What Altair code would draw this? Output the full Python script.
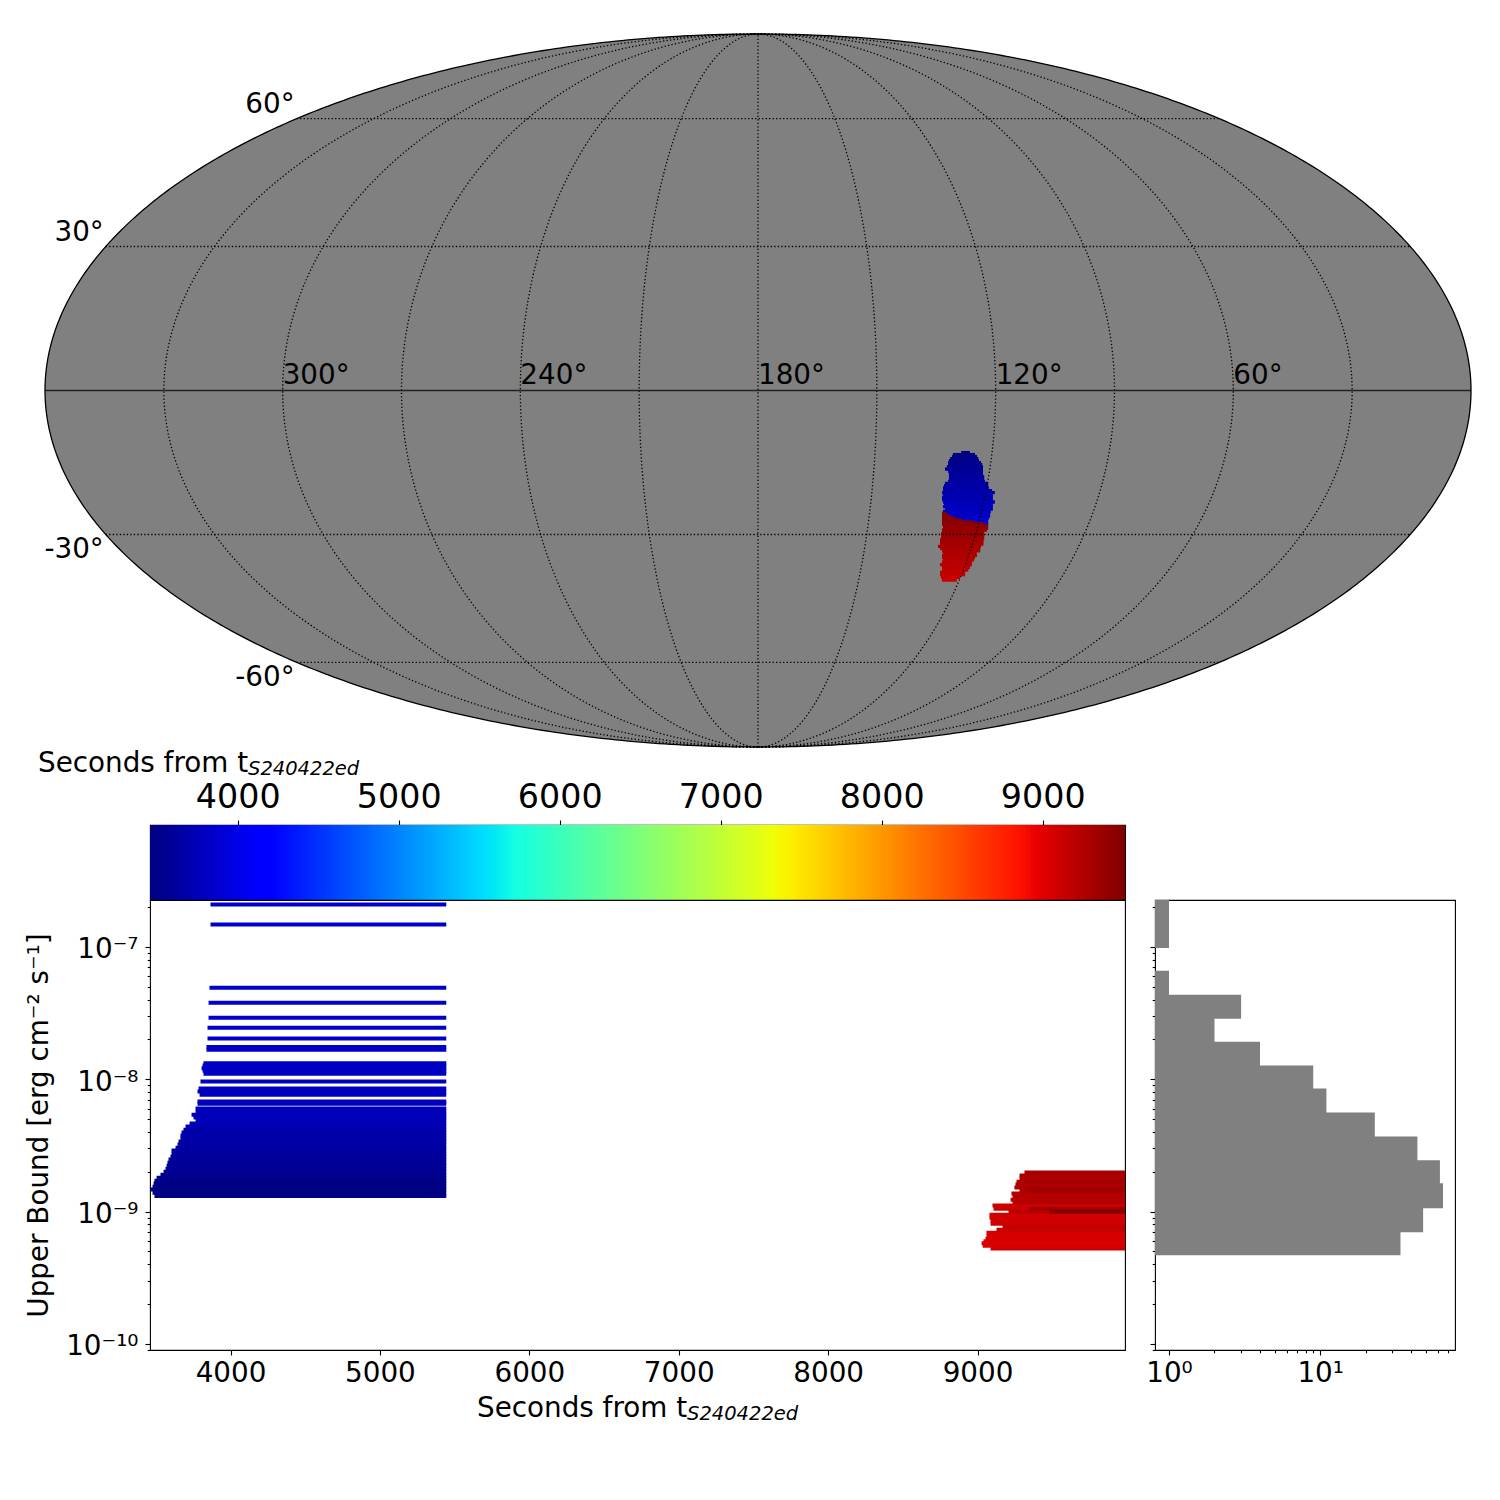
import altair as alt
import numpy as np
import pandas as pd

FONT = "DejaVu Sans"

# ---------- main panel: upper limits ----------
blue_flux = [2.09e-7,1.476e-7,4.92e-8,3.79e-8,2.92e-8,2.45e-8,2.03e-8,1.75e-8,1.67e-8,1.32e-8,1.27e-8,1.21e-8,1.16e-8,1.10e-8,9.6e-9,8.5e-9,8.06e-9,7.65e-9,6.78e-9,6.54e-9,6.0e-9,5.69e-9,5.4e-9,5.13e-9,4.87e-9,4.62e-9,4.39e-9,4.16e-9,3.95e-9,3.75e-9,3.56e-9,3.38e-9,3.21e-9,3.04e-9,2.89e-9,2.74e-9,2.60e-9,2.47e-9,2.34e-9,2.22e-9,2.11e-9,2.00e-9,1.90e-9,1.80e-9,1.71e-9,1.63e-9,1.54e-9,1.47e-9,1.39e-9,1.31e-9]
blue_start = [3866,3866,3859,3853,3853,3846,3846,3839,3839,3819,3813,3806,3813,3819,3799,3786,3779,3793,3779,3779,3766,3766,3739,3752,3766,3726,3699,3685,3672,3665,3665,3652,3645,3632,3605,3605,3598,3585,3578,3572,3565,3552,3531,3505,3491,3485,3478,3465,3478,3491]
blue_end = 5444

red_flux = [1.97e-9,1.87e-9,1.77e-9,1.68e-9,1.60e-9,1.52e-9,1.44e-9,1.37e-9,1.30e-9,1.23e-9,1.17e-9,1.11e-9,1.05e-9,9.98e-10,9.48e-10,9.0e-10,8.53e-10,8.11e-10,7.69e-10,7.30e-10,6.93e-10,6.58e-10,6.24e-10,5.98e-10,5.76e-10,5.53e-10,5.25e-10,1.68e-9,1.52e-9,1.44e-9,1.05e-9,9.98e-10]
red_start = [9314,9281,9281,9261,9254,9247,9281,9227,9234,9221,9234,9100,9107,9207,9080,9080,9087,9087,9167,9127,9060,9060,9053,9040,9027,9034,9087,9320,9330,9345,9345,9482]
red_end = 10500

# ---------- histogram ----------
hist_top = [2.26e-7,1.51e-7,6.59e-8,4.35e-8,2.92e-8,1.92e-8,1.27e-8,8.51e-9,5.61e-9,3.70e-9,2.44e-9,1.64e-9,1.08e-9,7.11e-10]
hist_bot = [1.51e-7,1.0e-7,4.35e-8,2.92e-8,1.92e-8,1.27e-8,8.51e-9,5.61e-9,3.70e-9,2.44e-9,1.64e-9,1.08e-9,7.11e-10,4.78e-10]
hist_cnt = [1,1,1,3,2,4,9,11,23,44,62,65,48,34]

# ---------- sky map rows (projected degrees) ----------
mb_y = [-15.66,-16.17,-16.67,-17.18,-17.68,-18.19,-18.69,-19.20,-19.79,-20.38,-21.05,-21.72,-22.31,-22.90,-23.41,-24.0,-24.59,-25.26,-25.77,-26.35,-26.94,-27.53,-28.12,-28.80,-29.30,-29.89,-30.48,-31.15,-31.66,-32.16,-32.67,-33.17,-33.68]
mb_x0 = [51.3,49.2,49.0,48.5,48.2,48.0,48.0,47.7,47.2,48.0,48.2,48.2,48.2,48.0,47.2,46.96,46.7,46.7,46.46,46.7,46.46,46.46,46.7,46.96,46.7,47.2,46.7,47.6,48.3,49.7,51.4,54.4,56.9]
mb_x1 = [53.5,54.8,55.3,55.6,55.8,56.3,56.6,56.8,56.8,56.8,56.8,57.1,57.1,57.3,58.1,58.1,58.3,59.1,59.8,59.3,59.3,59.3,59.8,59.3,59.3,59.3,58.8,58.6,58.6,58.3,58.1,58.1,58.1]
mb_t = [3470,3480,3490,3500,3515,3530,3540,3550,3565,3575,3590,3600,3615,3625,3640,3650,3660,3675,3685,3700,3710,3725,3735,3750,3760,3775,3785,3800,3810,3825,3835,3850,3860]

mr_y = [-30.98,-31.66,-32.16,-32.67,-33.17,-33.68,-34.19,-34.69,-35.2,-35.7,-36.2,-36.71,-37.2,-37.72,-38.23,-38.73,-39.32,-39.83,-40.42,-41.0,-41.6,-42.18,-42.77,-43.28,-43.95,-44.63,-45.3,-45.89,-46.48,-47.15,-47.83]
mr_x0 = [46.46,46.46,46.46,46.46,46.46,46.46,46.7,46.7,46.46,46.46,46.2,46.2,46.2,45.95,45.95,45.95,45.45,45.95,46.46,46.7,46.46,46.46,46.7,46.46,45.95,46.46,46.46,45.95,45.95,46.2,46.46]
mr_x1 = [47.6,48.3,49.7,51.4,54.4,56.9,58.1,58.1,57.8,57.1,57.1,57.1,57.1,56.9,56.9,56.9,56.3,56.1,56.1,55.2,55.3,54.8,54.5,54.0,54.0,53.5,53.1,52.3,52.3,51.0,50.2]
mr_t = [9490,9480,9470,9460,9450,9440,9425,9415,9400,9390,9380,9370,9355,9345,9335,9325,9310,9300,9290,9280,9265,9255,9240,9230,9215,9205,9190,9180,9165,9150,9135]

lon_lines = [-150,-120,-90,-60,-30,0,30,60,90,120,150]
lon_labels = ["300°","240°","180°","120°","60°"]
lon_label_x = [-120,-60,0,60,120]
lat_labels = ["60°","30°","-30°","-60°"]
lat_label_v = [60,30,-30,-60]

# ---------- colour scale (jet) ----------
VMIN, VMAX = 3455, 9511
fr = [0,.11,.125,.34,.35,.375,.64,.65,.66,.89,.91,1]
r = np.interp(fr,[0,.35,.66,.89,1],[0,0,1,1,.5])
g = np.interp(fr,[0,.125,.375,.64,.91,1],[0,0,1,1,0,0])
b = np.interp(fr,[0,.11,.34,.65,1],[.5,1,1,0,0])
jet_range = ["#%02x%02x%02x"%(int(round(a*255)),int(round(c*255)),int(round(d*255))) for a,c,d in zip(r,g,b)]
jet_dom = [VMIN+f*(VMAX-VMIN) for f in fr]
jet = alt.Scale(domain=jet_dom, range=jet_range, interpolate="rgb", clamp=True)
col = lambda f: alt.Color(f+":Q", scale=jet, legend=None)

# ---------- map ----------
def moll_theta(lat):
    phi = np.radians(lat); t = phi
    for _ in range(60):
        t = t-(2*t+np.sin(2*t)-np.pi*np.sin(phi))/(2+2*np.cos(2*t))
    return t

mx = alt.X("x:Q", scale=alt.Scale(domain=[-180,180], nice=False, zero=False), axis=None)
my = alt.Y("y:Q", scale=alt.Scale(domain=[-90,90], nice=False, zero=False), axis=None)
ang = np.linspace(0, np.pi, 721)
ell = pd.DataFrame({"x":-180*np.cos(ang), "y":90*np.sin(ang), "y2":-90*np.sin(ang)})
fill = alt.Chart(ell).mark_area(color="#808080", fillOpacity=1).encode(mx, my, y2=alt.Y2("y2:Q"))
a2 = np.linspace(0, 2*np.pi, 721)
outline = alt.Chart(pd.DataFrame({"x":180*np.cos(a2),"y":90*np.sin(a2),"i":np.arange(721)})).mark_line(color="black", strokeWidth=1.3).encode(mx, my, order="i:Q")

def patch(ys, x0, x1, ts):
    d = pd.DataFrame({"x":x0,"x2":x1,"y":ys,"t":ts})
    d["y2"] = d["y"]-0.45
    d["y"] = d["y"]+0.40
    return alt.Chart(d).mark_rect().encode(mx, x2="x2:Q", y=my, y2="y2:Q", color=col("t"))

gr = []
th = np.linspace(-np.pi/2, np.pi/2, 181)
for L in lon_lines:
    gr.append(pd.DataFrame({"x":L*np.cos(th),"y":90*np.sin(th),"id":"m%d"%L,"i":np.arange(181)}))
for la in [60,30,-30,-60]:
    t0 = moll_theta(la)
    s = np.linspace(-1,1,61)
    gr.append(pd.DataFrame({"x":180*np.cos(t0)*s,"y":90*np.sin(t0),"id":"p%d"%la,"i":np.arange(61)}))
gr = pd.concat(gr)
grat = alt.Chart(gr).mark_line(color="black", strokeWidth=1.3, strokeDash=[1.3,2.2]).encode(mx, my, detail="id:N", order="i:Q")
eq = alt.Chart(pd.DataFrame({"x":[-180,180],"y":[0,0]})).mark_line(color="#222222", strokeWidth=1.4).encode(mx, my)

lon_txt = alt.Chart(pd.DataFrame({"x":lon_label_x,"y":[0]*5,"s":lon_labels})).mark_text(
    font=FONT, fontSize=27.8, align="left", baseline="middle", dy=-15, color="black").encode(mx, my, text="s:N")
lat_df = pd.DataFrame({"x":[-180*np.cos(moll_theta(v)) for v in lat_label_v],
                       "y":[90*np.sin(moll_theta(v)) for v in lat_label_v],"s":lat_labels})
lat_txt = alt.layer(*[
    alt.Chart(lat_df[lat_df.s==s]).mark_text(font=FONT, fontSize=27.8, align="right", baseline="middle",
                                              dx=-2, dy=dy, color="black").encode(mx, my, text="s:N")
    for s,dy in zip(lat_labels,[-14,-13,15,16])])

sky = alt.layer(fill, patch(mb_y,mb_x0,mb_x1,mb_t), patch(mr_y,mr_x0,mr_x1,mr_t), grat, eq, outline, lon_txt, lat_txt).properties(
    width=1426, height=713, view=alt.ViewBackground(stroke="transparent"))

# ---------- colorbar ----------
edges = np.linspace(VMIN, VMAX, 257)
cb = pd.DataFrame({"x":edges[:-1],"x2":edges[1:]+12,"t":(edges[:-1]+edges[1:])/2,"y":0,"y2":1})
cbar = alt.Chart(cb).mark_rect(clip=True).encode(
    x=alt.X("x:Q", scale=alt.Scale(domain=[VMIN,VMAX], nice=False, zero=False),
            axis=alt.Axis(orient="top", values=[4000,5000,6000,7000,8000,9000], labelFontSize=33.3, tickSize=5,
                          labelPadding=6, title=None, grid=False, domain=False, format="d", labelFont=FONT,
                          tickColor="black", labelColor="black", tickWidth=1.1)),
    x2="x2:Q",
    y=alt.Y("y:Q", scale=alt.Scale(domain=[0,1], nice=False), axis=None), y2="y2:Q",
    color=col("t"))
t1 = alt.Chart(pd.DataFrame({"s":["Seconds from t"]})).mark_text(font=FONT, fontSize=27.8, align="left", baseline="alphabetic", color="black").encode(
    x=alt.value(-112), y=alt.value(-53), text="s:N")
t2 = alt.Chart(pd.DataFrame({"s":["S240422ed"]})).mark_text(font=FONT, fontSize=19.5, fontStyle="italic", align="left", baseline="alphabetic", color="black").encode(
    x=alt.value(98), y=alt.value(-50), text="s:N")
colorbar = alt.layer(cbar, t1, t2).properties(width=975, height=75)

# ---------- log axis helpers ----------
minor_y = [m*10.0**e for e in range(-11,-6) for m in range(1,10)]
minor_y = [v for v in minor_y if 9.0e-11 <= v <= 2.26e-7]
major_test = "abs(log(datum.value)/LN10-round(log(datum.value)/LN10))<0.001"
y_lab = ("abs(log(datum.value)/LN10+7)<0.01?'10⁻⁷':abs(log(datum.value)/LN10+8)<0.01?'10⁻⁸':"
         "abs(log(datum.value)/LN10+9)<0.01?'10⁻⁹':abs(log(datum.value)/LN10+10)<0.01?'10⁻¹⁰':''")
tsize = {"condition":{"test":major_test,"value":5},"value":2.8}
YDOM = [9.0e-11, 2.26e-7]

main_y = alt.Y("f:Q", scale=alt.Scale(type="log", domain=YDOM, nice=False),
    axis=alt.Axis(values=minor_y, labelExpr=y_lab, tickSize=tsize, labelFontSize=27.8, labelFont=FONT, labelPadding=7,
                  labelOffset=3, title="Upper Bound [erg cm⁻² s⁻¹]", titleFontSize=27.8, titleFont=FONT, titleFontWeight="normal",
                  titlePadding=12, titleColor="black", grid=False, domain=False, labelOverlap=False,
                  tickColor="black", labelColor="black", tickWidth=1.1))
main_x = alt.X("t:Q", scale=alt.Scale(domain=[3461,9987], nice=False, zero=False),
    axis=alt.Axis(values=[4000,5000,6000,7000,8000,9000], labelFontSize=27.8, labelFont=FONT, labelPadding=4, tickSize=5,
                  title=None, grid=False, domain=False, format="d", tickColor="black", labelColor="black", tickWidth=1.1))

df_l = pd.concat([
    pd.DataFrame({"f":blue_flux,"t":blue_start,"e":blue_end}),
    pd.DataFrame({"f":red_flux,"t":red_start,"e":red_end})]).sort_values("t")
lines = alt.Chart(df_l).mark_rule(strokeWidth=4, clip=True).encode(x=main_x, x2="e:Q", y=main_y, color=col("t"))
t3 = alt.Chart(pd.DataFrame({"s":["Seconds from t"]})).mark_text(font=FONT, fontSize=27.8, align="left", baseline="alphabetic", color="black").encode(
    x=alt.value(327), y=alt.value(517), text="s:N")
t4 = alt.Chart(pd.DataFrame({"s":["S240422ed"]})).mark_text(font=FONT, fontSize=19.5, fontStyle="italic", align="left", baseline="alphabetic", color="black").encode(
    x=alt.value(537), y=alt.value(520), text="s:N")
main = alt.layer(lines, t3, t4).properties(width=975, height=450)

# ---------- histogram ----------
hist_x_vals = [m*10.0**e for e in (0,1) for m in range(1,10)]
hist_x_vals = [v for v in hist_x_vals if 0.808 <= v <= 78]
hist_lab = "abs(datum.value-1)<0.01?'10⁰':abs(datum.value-10)<0.01?'10¹':''"
hd = pd.DataFrame({"c":hist_cnt,"b":0.5,"f":hist_top,"f2":hist_bot})
hd["f2"] = hd["f2"]*0.98
hist = alt.Chart(hd).mark_rect(color="#808080", clip=True).encode(
    x=alt.X("b:Q", scale=alt.Scale(type="log", domain=[0.808,78], nice=False),
            axis=alt.Axis(values=hist_x_vals, labelExpr=hist_lab, tickSize=tsize, labelFontSize=27.8, labelFont=FONT,
                          labelPadding=4, title=None, grid=False, domain=False, labelOverlap=False,
                          tickColor="black", labelColor="black", tickWidth=1.1)),
    x2="c:Q",
    y=alt.Y("f:Q", scale=alt.Scale(type="log", domain=YDOM, nice=False),
            axis=alt.Axis(values=minor_y, labelExpr="''", tickSize=tsize, title=None, grid=False, domain=False,
                          labelOverlap=False, tickColor="black", tickWidth=1.1)),
    y2="f2:Q").properties(width=300, height=450)

spacer = alt.Chart(pd.DataFrame({"x":[0],"y":[0]})).mark_point(opacity=0).encode(
    x=alt.X("x:Q", axis=None), y=alt.Y("y:Q", axis=None)).properties(
    width=105, height=525, view=alt.ViewBackground(stroke="transparent"))

lower = alt.hconcat(main, hist, spacing=30, bounds="flush")
column = alt.vconcat(colorbar, lower, spacing=0, bounds="flush")
bottom = alt.hconcat(spacer, column, spacing=0, bounds="flush")
chart = alt.vconcat(sky, bottom, spacing=78, bounds="flush").properties(
    padding={"left":17,"top":22,"right":5,"bottom":5}
).configure(font=FONT).configure_view(stroke="black", strokeWidth=1.1)

chart.save("out.html", embed_options={"renderer":"svg","actions":False})
